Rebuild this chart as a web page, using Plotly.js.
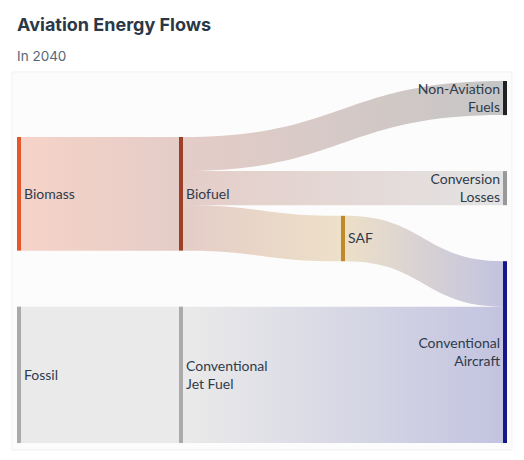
<!DOCTYPE html>
<html>
<head>
<meta charset="utf-8">
<script src="https://cdn.plot.ly/plotly-3.0.1.min.js"></script>
<style>
  html, body { margin: 0; padding: 0; background: #ffffff; }
  #chart { width: 524px; height: 460px; }
</style>
</head>
<body>
<div id="chart"></div>
<script>
// nodes
var nodeLabels = ['Biomass', 'Fossil', 'Biofuel', 'Conventional<br>Jet Fuel', 'SAF',
                  'Non-Aviation<br>Fuels', 'Conversion<br>Losses', 'Conventional<br>Aircraft'];
var nodeColors = ['#e3572b', '#aaaaaa', '#9e3f2a', '#aaaaaa', '#c08a2c',
                  '#222222', '#999999', '#16188a'];

var linkSource = [0, 1, 2, 2, 2, 4, 3];
var linkTarget = [2, 3, 5, 6, 4, 7, 7];
var linkValues = [40, 48, 12, 12, 16, 16, 48];

function rgba(hex, a) {
  var n = parseInt(hex.slice(1), 16);
  return 'rgba(' + (n >> 16) + ',' + ((n >> 8) & 255) + ',' + (n & 255) + ',' + a + ')';
}

var linkColors = linkTarget.map(function (t) { return rgba(nodeColors[t], 0.25); });

var gd = document.getElementById('chart');

var data = [{
  type: 'sankey',
  orientation: 'h',
  hoverinfo: 'none',
  domain: { x: [0, 1], y: [0, 1] },
  node: {
    label: nodeLabels,
    color: nodeColors,
    thickness: 4,
    pad: 56,
    line: { width: 0 },
    hoverinfo: 'none'
  },
  link: {
    source: linkSource,
    target: linkTarget,
    value: linkValues,
    color: linkColors,
    hoverinfo: 'none'
  },
  textfont: { family: 'Lato, sans-serif', size: 14, color: '#2f3b4b', shadow: 'none' }
}];

var layout = {
  width: 524,
  height: 460,
  paper_bgcolor: '#ffffff',
  margin: { l: 17, r: 17, t: 81, b: 17 },
  font: { family: 'Lato, sans-serif', color: '#2f3b4b' },
  title: {
    text: '<b>Aviation Energy Flows</b>',
    font: { family: 'Inter, sans-serif', size: 18, color: '#2a3847' },
    x: 17 / 524, xref: 'container', xanchor: 'left',
    y: 1 - 18 / 460, yref: 'container', yanchor: 'top'
  },
  annotations: [{
    text: 'In 2040',
    xref: 'paper', yref: 'paper',
    x: -2 / 490, y: 1 + 25 / 362, xanchor: 'left', yanchor: 'middle',
    showarrow: false,
    font: { family: 'Inter, sans-serif', size: 13.5, color: '#56667a' }
  }],
  shapes: [{
    type: 'rect', xref: 'paper', yref: 'paper', layer: 'below',
    x0: -5 / 490, x1: 1 + 5 / 490, y0: -7 / 362, y1: 1 + 9 / 362,
    fillcolor: '#fcfcfc', line: { color: '#f1f1f1', width: 1 }
  }]
};

function addGradients() {
  var svg = gd.querySelector('.main-svg');
  var ns = 'http://www.w3.org/2000/svg';
  var defs = svg.querySelector('defs') || svg.insertBefore(document.createElementNS(ns, 'defs'), svg.firstChild);
  var paths = gd.querySelectorAll('.sankey-link');
  paths.forEach(function (p, i) {
    var d = p.__data__, s, t;
    try {
      s = nodeLabels.indexOf(d.link.source.label);
      t = nodeLabels.indexOf(d.link.target.label);
    } catch (e) { return; }
    if (s < 0 || t < 0) return;
    var g = document.createElementNS(ns, 'linearGradient');
    g.setAttribute('id', 'lg' + i);
    g.setAttribute('x1', '0'); g.setAttribute('x2', '1');
    g.setAttribute('y1', '0'); g.setAttribute('y2', '0');
    [[0, nodeColors[s]], [1, nodeColors[t]]].forEach(function (st) {
      var stop = document.createElementNS(ns, 'stop');
      stop.setAttribute('offset', st[0]);
      stop.setAttribute('stop-color', st[1]);
      stop.setAttribute('stop-opacity', st[1] === '#aaaaaa' ? 0.22 : 0.25);
      g.appendChild(stop);
    });
    defs.appendChild(g);
    p.style.fill = 'url(#lg' + i + ')';
    p.style.fillOpacity = 1;
  });
}

Plotly.newPlot(gd, data, layout, { displayModeBar: false, staticPlot: true }).then(addGradients);
</script>
</body>
</html>
